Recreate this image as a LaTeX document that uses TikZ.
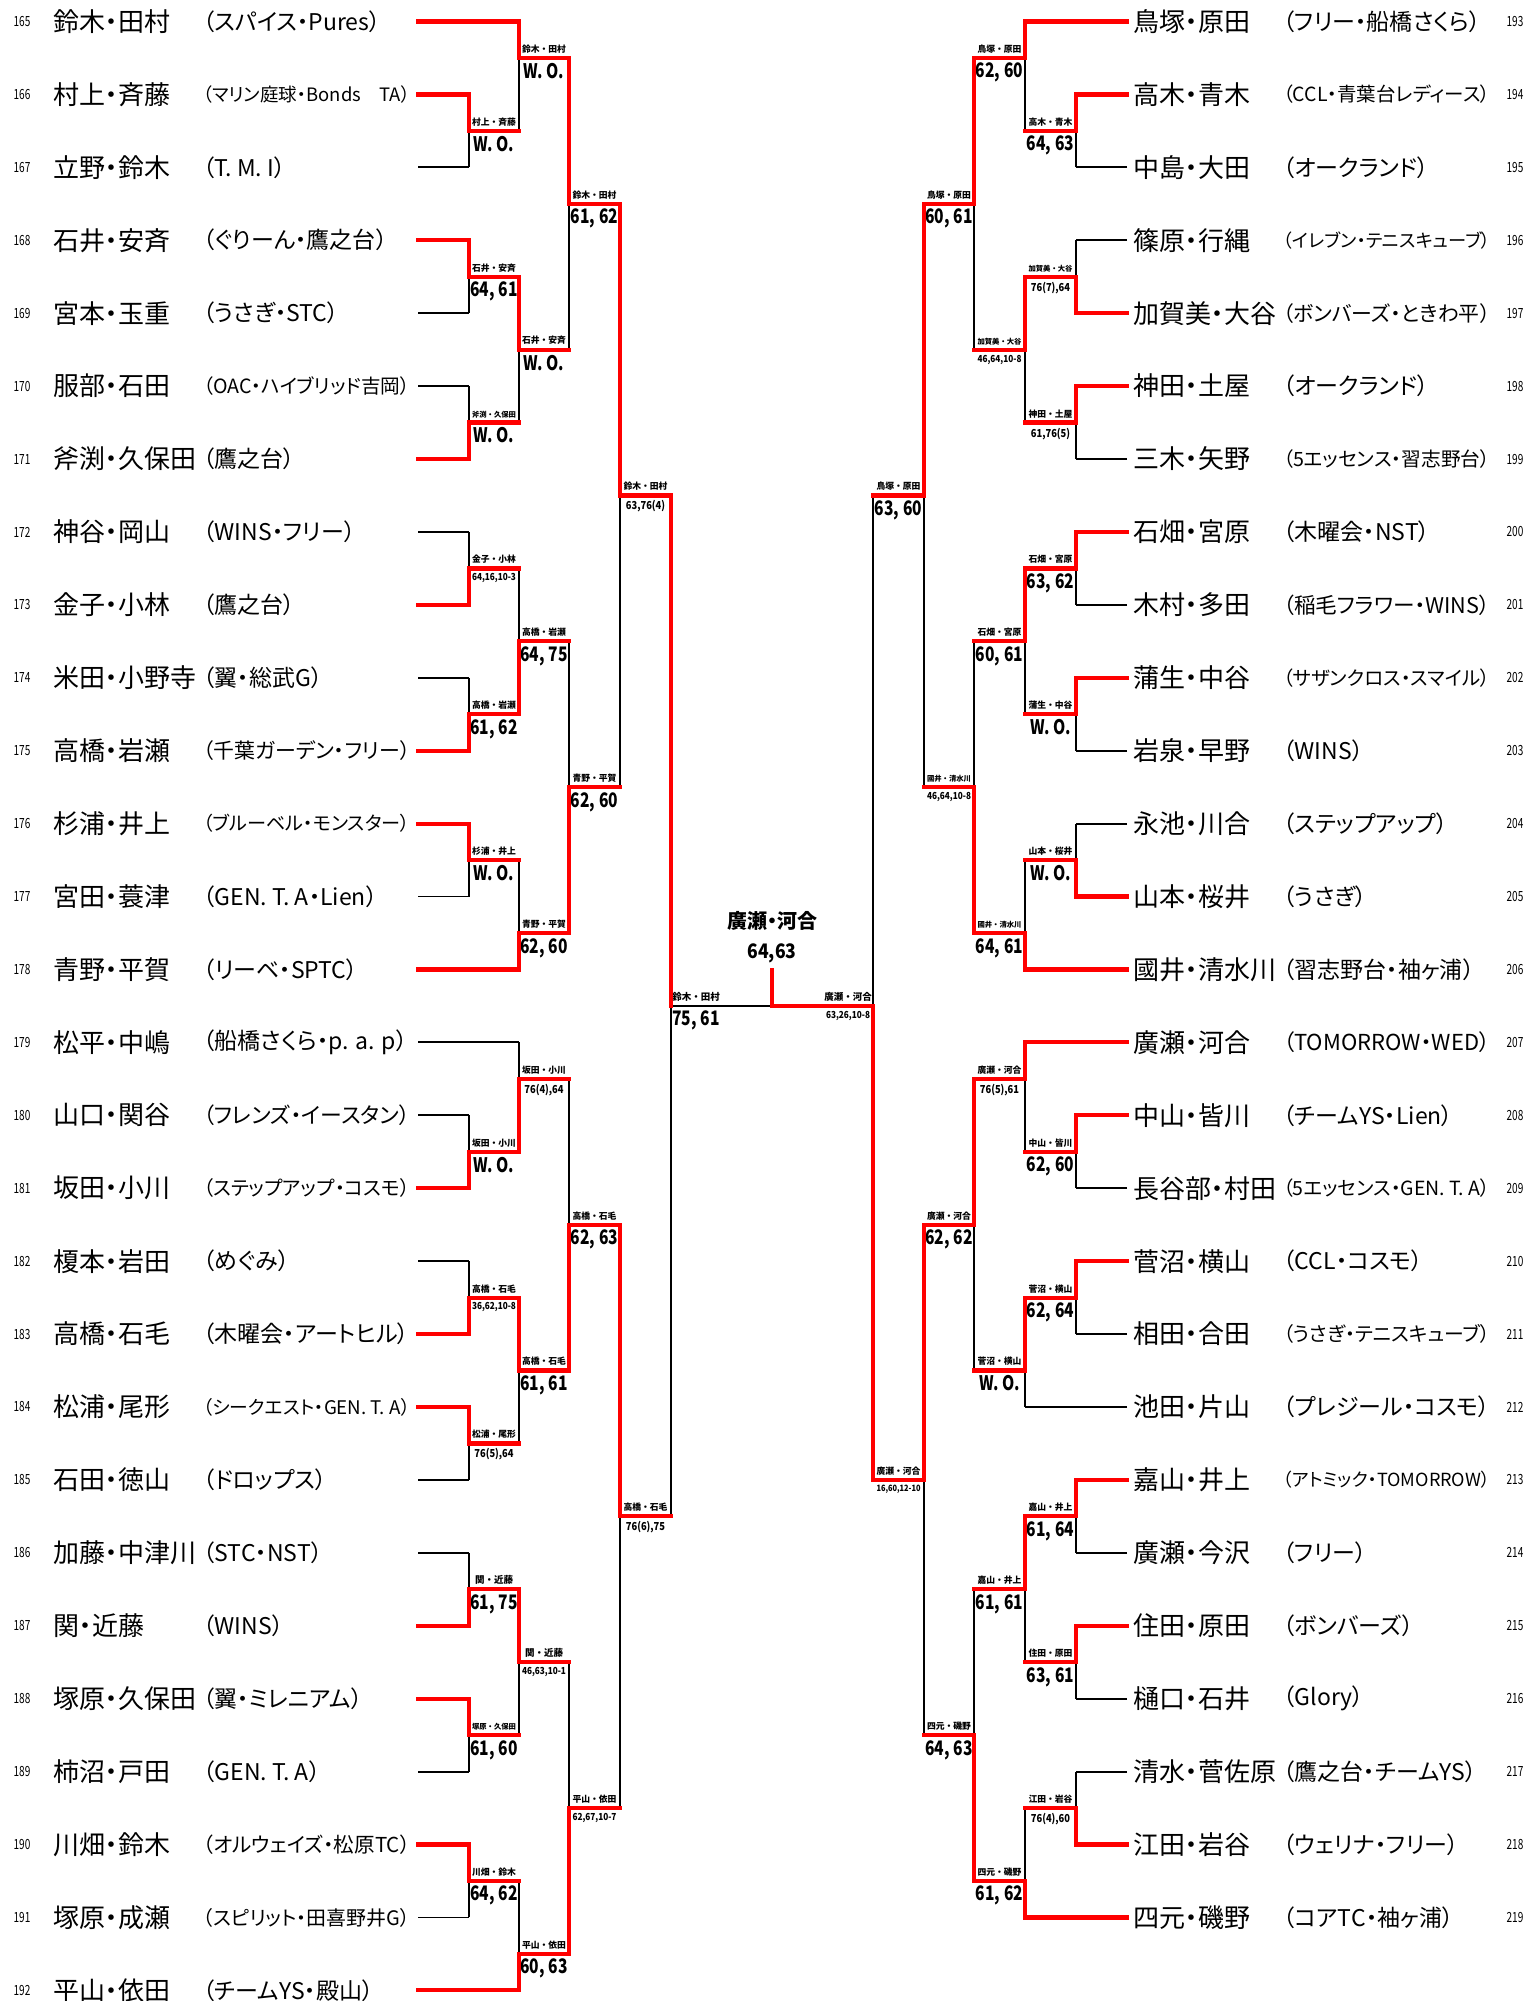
\documentclass[tikz,border=0pt]{standalone}
\usepackage{fontspec}
\usepackage{graphicx}
\newfontfamily\jp[RawFeature=+palt]{Noto Sans CJK JP}
\newfontfamily\jpm{Noto Sans CJK JP}
\usetikzlibrary{calc}
\pgfdeclarelayer{fg}
\pgfsetlayers{main,fg}

\newsavebox\fitbx
\def\fitto#1#2{\sbox\fitbx{#2}\ifdim\wd\fitbx>#1\relax\resizebox{#1}{!}{\usebox\fitbx}\else\usebox\fitbx\fi}
\def\ky#1{(21.5+36.46*(#1))}
\def\scbig#1{{\jp\bfseries\fontsize{20}{20}\selectfont\scalebox{0.78}[1]{#1}}}
\def\scsm#1{{\jp\bfseries\fontsize{11}{11}\selectfont\fitto{44pt}{\scalebox{0.85}[1]{#1}}}}

\tikzset{
  win/.style={draw=red, line width=4.2pt, line cap=rect},
  lose/.style={draw=black, line width=1.8pt},
  seed/.style={inner sep=0pt, font=\jp\fontsize{14}{14}\selectfont},
  pname/.style={inner sep=0pt, anchor=west, font=\jp\fontsize{26}{26}\selectfont},
  aff/.style={inner sep=0pt, anchor=west, font=\jp\fontsize{23}{23}\selectfont},
  mname/.style={inner sep=0pt, anchor=south, font=\jpm\bfseries\fontsize{9.5}{9.5}\selectfont},
  mscore/.style={inner sep=0pt, anchor=north},
  champ/.style={inner sep=0pt, font=\jp\bfseries\fontsize{20}{20}\selectfont},
}

% left entry: k, line end, seed, pair, club, line style
\def\lpl#1#2#3#4#5#6{%
  \node[seed] (s#3) at (22,{\ky{#1}}) {\scalebox{0.72}[1]{#3}};
  \node[pname] (p#3) at (53,{\ky{#1}}) {#4};
  \node[aff] (a#3) at (203,{\ky{#1}}) {\fitto{207pt}{#5}};
  \begin{pgfonlayer}{fg}\draw[#6] (418,{\ky{#1}}) -- (#2,{\ky{#1}});\end{pgfonlayer}%
}
% right entry
\def\rpl#1#2#3#4#5#6{%
  \node[seed] (s#3) at (1515,{\ky{#1}}) {\scalebox{0.72}[1]{#3}};
  \node[pname] (p#3) at (1133,{\ky{#1}}) {#4};
  \node[aff] (a#3) at (1283,{\ky{#1}}) {\fitto{207pt}{#5}};
  \begin{pgfonlayer}{fg}\draw[#6] (1127,{\ky{#1}}) -- (#2,{\ky{#1}});\end{pgfonlayer}%
}
% match: x, next x, winner k, loser k, out k, pair, score
\def\bmatch#1#2#3#4#5#6#7{%
  \draw[lose] (#1,{\ky{#4}}) -- (#1,{\ky{#5}});
  \begin{pgfonlayer}{fg}\draw[win] (#1,{\ky{#3}}) -- (#1,{\ky{#5}}) -- (#2,{\ky{#5}});\end{pgfonlayer}
  \node[mname] (m#1x#5) at ({(#1+#2)/2},{\ky{#5}-4.5}) {\fitto{44pt}{#6}};
  \node[mscore] (r#1x#5) at ({(#1+#2)/2},{\ky{#5}+5}) {#7};
}

\begin{document}
\begin{tikzpicture}[x=1pt, y=-1pt]
	%%%%% START %%%%%
	\useasboundingbox (0,0) rectangle (1530,2001);
	
	%% left entries
	\lpl{0}{519}{165}{鈴木・田村}{（スパイス・Pures）}{win}
	\lpl{2}{469}{166}{村上・斉藤}{（マリン庭球・Bonds　TA）}{win}
	\lpl{4}{469}{167}{立野・鈴木}{（T. M. I）}{lose}
	\lpl{6}{469}{168}{石井・安斉}{（ぐりーん・鷹之台）}{win}
	\lpl{8}{469}{169}{宮本・玉重}{（うさぎ・STC）}{lose}
	\lpl{10}{469}{170}{服部・石田}{（OAC・ハイブリッド吉岡）}{lose}
	\lpl{12}{469}{171}{斧渕・久保田}{（鷹之台）}{win}
	\lpl{14}{469}{172}{神谷・岡山}{（WINS・フリー）}{lose}
	\lpl{16}{469}{173}{金子・小林}{（鷹之台）}{win}
	\lpl{18}{469}{174}{米田・小野寺}{（翼・総武G）}{lose}
	\lpl{20}{469}{175}{高橋・岩瀬}{（千葉ガーデン・フリー）}{win}
	\lpl{22}{469}{176}{杉浦・井上}{（ブルーベル・モンスター）}{win}
	\lpl{24}{469}{177}{宮田・蓑津}{（GEN. T. A・Lien）}{lose}
	\lpl{26}{519}{178}{青野・平賀}{（リーベ・SPTC）}{win}
	\lpl{28}{519}{179}{松平・中嶋}{（船橋さくら・p. a. p）}{lose}
	\lpl{30}{469}{180}{山口・関谷}{（フレンズ・イースタン）}{lose}
	\lpl{32}{469}{181}{坂田・小川}{（ステップアップ・コスモ）}{win}
	\lpl{34}{469}{182}{榎本・岩田}{（めぐみ）}{lose}
	\lpl{36}{469}{183}{高橋・石毛}{（木曜会・アートヒル）}{win}
	\lpl{38}{469}{184}{松浦・尾形}{（シークエスト・GEN. T. A）}{win}
	\lpl{40}{469}{185}{石田・徳山}{（ドロップス）}{lose}
	\lpl{42}{469}{186}{加藤・中津川}{（STC・NST）}{lose}
	\lpl{44}{469}{187}{関・近藤}{（WINS）}{win}
	\lpl{46}{469}{188}{塚原・久保田}{（翼・ミレニアム）}{win}
	\lpl{48}{469}{189}{柿沼・戸田}{（GEN. T. A）}{lose}
	\lpl{50}{469}{190}{川畑・鈴木}{（オルウェイズ・松原TC）}{win}
	\lpl{52}{469}{191}{塚原・成瀬}{（スピリット・田喜野井G）}{lose}
	\lpl{54}{519}{192}{平山・依田}{（チームYS・殿山）}{win}
	
	%% right entries
	\rpl{0}{1025}{193}{鳥塚・原田}{（フリー・船橋さくら）}{win}
	\rpl{2}{1076}{194}{高木・青木}{（CCL・青葉台レディース）}{win}
	\rpl{4}{1076}{195}{中島・大田}{（オークランド）}{lose}
	\rpl{6}{1076}{196}{篠原・行縄}{（イレブン・テニスキューブ）}{lose}
	\rpl{8}{1076}{197}{加賀美・大谷}{（ボンバーズ・ときわ平）}{win}
	\rpl{10}{1076}{198}{神田・土屋}{（オークランド）}{win}
	\rpl{12}{1076}{199}{三木・矢野}{（5エッセンス・習志野台）}{lose}
	\rpl{14}{1076}{200}{石畑・宮原}{（木曜会・NST）}{win}
	\rpl{16}{1076}{201}{木村・多田}{（稲毛フラワー・WINS）}{lose}
	\rpl{18}{1076}{202}{蒲生・中谷}{（サザンクロス・スマイル）}{win}
	\rpl{20}{1076}{203}{岩泉・早野}{（WINS）}{lose}
	\rpl{22}{1076}{204}{永池・川合}{（ステップアップ）}{lose}
	\rpl{24}{1076}{205}{山本・桜井}{（うさぎ）}{win}
	\rpl{26}{1025}{206}{國井・清水川}{（習志野台・袖ヶ浦）}{win}
	\rpl{28}{1025}{207}{廣瀬・河合}{（TOMORROW・WED）}{win}
	\rpl{30}{1076}{208}{中山・皆川}{（チームYS・Lien）}{win}
	\rpl{32}{1076}{209}{長谷部・村田}{（5エッセンス・GEN. T. A）}{lose}
	\rpl{34}{1076}{210}{菅沼・横山}{（CCL・コスモ）}{win}
	\rpl{36}{1076}{211}{相田・合田}{（うさぎ・テニスキューブ）}{lose}
	\rpl{38}{1025}{212}{池田・片山}{（プレジール・コスモ）}{lose}
	\rpl{40}{1076}{213}{嘉山・井上}{（アトミック・TOMORROW）}{win}
	\rpl{42}{1076}{214}{廣瀬・今沢}{（フリー）}{lose}
	\rpl{44}{1076}{215}{住田・原田}{（ボンバーズ）}{win}
	\rpl{46}{1076}{216}{樋口・石井}{（Glory）}{lose}
	\rpl{48}{1076}{217}{清水・菅佐原}{（鷹之台・チームYS）}{lose}
	\rpl{50}{1076}{218}{江田・岩谷}{（ウェリナ・フリー）}{win}
	\rpl{52}{1025}{219}{四元・磯野}{（コアTC・袖ヶ浦）}{win}
	
	%% left rounds
	\bmatch{469}{519}{2}{4}{3}{村上・斉藤}{\scbig{W. O.}}
	\bmatch{469}{519}{6}{8}{7}{石井・安斉}{\scbig{64, 61}}
	\bmatch{469}{519}{12}{10}{11}{斧渕・久保田}{\scbig{W. O.}}
	\bmatch{469}{519}{16}{14}{15}{金子・小林}{\scsm{64,16,10-3}}
	\bmatch{469}{519}{20}{18}{19}{高橋・岩瀬}{\scbig{61, 62}}
	\bmatch{469}{519}{22}{24}{23}{杉浦・井上}{\scbig{W. O.}}
	\bmatch{469}{519}{32}{30}{31}{坂田・小川}{\scbig{W. O.}}
	\bmatch{469}{519}{36}{34}{35}{高橋・石毛}{\scsm{36,62,10-8}}
	\bmatch{469}{519}{38}{40}{39}{松浦・尾形}{\scsm{76(5),64}}
	\bmatch{469}{519}{44}{42}{43}{関・近藤}{\scbig{61, 75}}
	\bmatch{469}{519}{46}{48}{47}{塚原・久保田}{\scbig{61, 60}}
	\bmatch{469}{519}{50}{52}{51}{川畑・鈴木}{\scbig{64, 62}}
	
	\bmatch{519}{569}{0}{3}{1}{鈴木・田村}{\scbig{W. O.}}
	\bmatch{519}{569}{7}{11}{9}{石井・安斉}{\scbig{W. O.}}
	\bmatch{519}{569}{19}{15}{17}{高橋・岩瀬}{\scbig{64, 75}}
	\bmatch{519}{569}{26}{23}{25}{青野・平賀}{\scbig{62, 60}}
	\bmatch{519}{569}{31}{28}{29}{坂田・小川}{\scsm{76(4),64}}
	\bmatch{519}{569}{35}{39}{37}{高橋・石毛}{\scbig{61, 61}}
	\bmatch{519}{569}{43}{47}{45}{関・近藤}{\scsm{46,63,10-1}}
	\bmatch{519}{569}{54}{51}{53}{平山・依田}{\scbig{60, 63}}
	
	\bmatch{569}{620}{1}{9}{5}{鈴木・田村}{\scbig{61, 62}}
	\bmatch{569}{620}{25}{17}{21}{青野・平賀}{\scbig{62, 60}}
	\bmatch{569}{620}{37}{29}{33}{高橋・石毛}{\scbig{62, 63}}
	\bmatch{569}{620}{53}{45}{49}{平山・依田}{\scsm{62,67,10-7}}
	
	\bmatch{620}{671}{5}{21}{13}{鈴木・田村}{\scsm{63,76(4)}}
	\bmatch{620}{671}{33}{49}{41}{高橋・石毛}{\scsm{76(6),75}}
	
	%% right rounds
	\bmatch{1076}{1025}{2}{4}{3}{高木・青木}{\scbig{64, 63}}
	\bmatch{1076}{1025}{8}{6}{7}{加賀美・大谷}{\scsm{76(7),64}}
	\bmatch{1076}{1025}{10}{12}{11}{神田・土屋}{\scsm{61,76(5)}}
	\bmatch{1076}{1025}{14}{16}{15}{石畑・宮原}{\scbig{63, 62}}
	\bmatch{1076}{1025}{18}{20}{19}{蒲生・中谷}{\scbig{W. O.}}
	\bmatch{1076}{1025}{24}{22}{23}{山本・桜井}{\scbig{W. O.}}
	\bmatch{1076}{1025}{30}{32}{31}{中山・皆川}{\scbig{62, 60}}
	\bmatch{1076}{1025}{34}{36}{35}{菅沼・横山}{\scbig{62, 64}}
	\bmatch{1076}{1025}{40}{42}{41}{嘉山・井上}{\scbig{61, 64}}
	\bmatch{1076}{1025}{44}{46}{45}{住田・原田}{\scbig{63, 61}}
	\bmatch{1076}{1025}{50}{48}{49}{江田・岩谷}{\scsm{76(4),60}}
	
	\bmatch{1025}{974}{0}{3}{1}{鳥塚・原田}{\scbig{62, 60}}
	\bmatch{1025}{974}{7}{11}{9}{加賀美・大谷}{\scsm{46,64,10-8}}
	\bmatch{1025}{974}{15}{19}{17}{石畑・宮原}{\scbig{60, 61}}
	\bmatch{1025}{974}{26}{23}{25}{國井・清水川}{\scbig{64, 61}}
	\bmatch{1025}{974}{28}{31}{29}{廣瀬・河合}{\scsm{76(5),61}}
	\bmatch{1025}{974}{35}{38}{37}{菅沼・横山}{\scbig{W. O.}}
	\bmatch{1025}{974}{41}{45}{43}{嘉山・井上}{\scbig{61, 61}}
	\bmatch{1025}{974}{52}{49}{51}{四元・磯野}{\scbig{61, 62}}
	
	\bmatch{974}{924}{1}{9}{5}{鳥塚・原田}{\scbig{60, 61}}
	\bmatch{974}{924}{25}{17}{21}{國井・清水川}{\scsm{46,64,10-8}}
	\bmatch{974}{924}{29}{37}{33}{廣瀬・河合}{\scbig{62, 62}}
	\bmatch{974}{924}{51}{43}{47}{四元・磯野}{\scbig{64, 63}}
	
	\bmatch{924}{873}{5}{21}{13}{鳥塚・原田}{\scbig{63, 60}}
	\bmatch{924}{873}{33}{47}{40}{廣瀬・河合}{\scsm{16,60,12-10}}
	
	%% semifinals and final
	\draw[lose] (671,{\ky{27}}) -- (671,{\ky{41}});
	\draw[lose] (671,{\ky{27}}) -- (772,{\ky{27}});
	\draw[lose] (873,{\ky{13}}) -- (873,{\ky{27}});
	\begin{pgfonlayer}{fg}
	\draw[win] (671,{\ky{13}}) -- (671,{\ky{27}});
	\draw[win] (873,{\ky{40}}) -- (873,{\ky{27}}) -- (772,{\ky{27}}) -- (772,970);
	\end{pgfonlayer}
	\node[mname] (fl) at (696,{\ky{27}-4.5}) {鈴木・田村};
	\node[mscore] (fls) at (696,{\ky{27}+5}) {\scbig{75, 61}};
	\node[mname] (fr) at (848,{\ky{27}-4.5}) {廣瀬・河合};
	\node[mscore] (frs) at (848,{\ky{27}+5}) {\scsm{63,26,10-8}};
	
	\node[champ] (champ) at (772,921) {廣瀬・河合};
	\node[champ] (champsc) at (772,953) {\scalebox{0.88}[1]{64,63}};
	
	%%%%% END %%%%%
\end{tikzpicture}
\end{document}
